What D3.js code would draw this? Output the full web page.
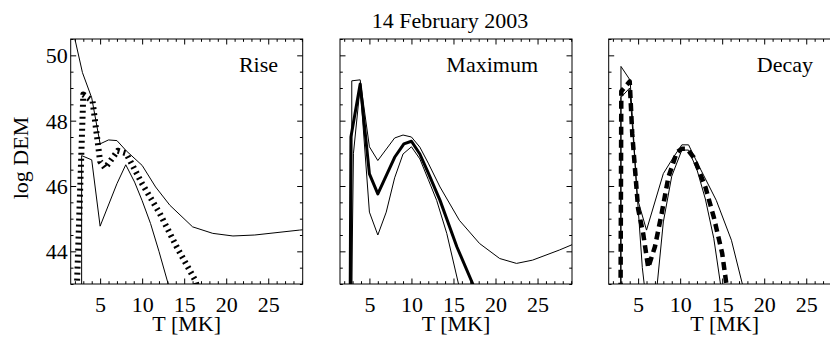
<!DOCTYPE html>
<html>
  <head>
    <meta charset="utf-8">
    <title>DEM 14 February 2003</title>
    <script src="https://d3js.org/d3.v7.min.js"></script>
    <style>
      body { margin: 0; background: #fff; }
      .tick line { stroke: #000; stroke-width: 1; }
    </style>
  </head>
  <body>
    <div id="chart"></div>
    <script>

      // tick labels
      var xTicks = [5, 10, 15, 20, 25];
      var yTicks = [44, 46, 48, 50];
      var panelNames = ["Rise", "Maximum", "Decay"];

      // curves: [T in MK, log DEM]
      var riseUpper = [[1.8, 51.3], [2.0, 50.5], [2.9, 49.47], [4.0, 48.7], [5.0, 47.29], [6.0, 47.41],
        [7.0, 47.39], [8.1, 47.08], [10.0, 46.63], [11.6, 45.97], [13.3, 45.41], [16.0, 44.75],
        [18.4, 44.55], [20.8, 44.47], [23.4, 44.5], [28.7, 44.65], [30.0, 44.68]];
      var riseLower = [[2.8, 42.0], [2.8, 46.93], [4.0, 46.8], [5.0, 44.77], [7.0, 46.07], [8.05, 46.65],
        [9.1, 46.12], [10.0, 45.55], [11.0, 44.85], [12.0, 44.0], [13.1, 43.0], [13.5, 42.6]];
      var riseFit = [[2.2, 42.0], [2.25, 43.0], [3.0, 48.8], [4.1, 48.6], [5.0, 46.75], [5.6, 46.55],
        [7.1, 47.08], [8.1, 47.0], [10.0, 46.07], [12.1, 45.16], [14.1, 44.14], [16.3, 43.12], [16.8, 42.7]];

      var maxUpper = [[2.9, 42.0], [2.9, 49.22], [3.9, 49.25], [5.0, 47.2], [6.0, 46.78], [8.0, 47.47],
        [9.0, 47.56], [10.0, 47.5], [11.0, 47.19], [12.0, 46.7], [13.4, 45.97], [15.7, 44.95],
        [18.1, 44.24], [20.5, 43.78], [22.5, 43.63], [24.4, 43.73], [27.6, 44.04], [30.0, 44.3]];
      var maxLower = [[2.85, 42.0], [3.1, 47.0], [3.9, 49.05], [5.0, 45.2], [6.0, 44.5], [7.0, 45.2],
        [8.0, 46.25], [9.0, 46.98], [10.0, 47.2], [11.0, 46.83], [12.0, 46.2], [13.0, 45.56],
        [14.2, 44.55], [15.6, 43.0], [15.9, 42.7]];
      var maxFit = [[2.7, 42.0], [2.8, 47.5], [3.9, 49.12], [5.0, 46.37], [6.0, 45.76], [8.0, 46.88],
        [9.1, 47.29], [10.0, 47.37], [11.0, 46.98], [12.0, 46.4], [13.4, 45.56], [15.4, 44.14],
        [17.3, 43.0], [17.6, 42.7]];

      var decUpper = [[2.96, 42.0], [2.96, 49.66], [4.05, 49.24], [4.9, 45.63], [6.0, 44.65], [8.0, 46.38],
        [9.2, 46.88], [10.2, 47.26], [11.0, 47.26], [12.1, 46.68], [14.3, 45.56], [16.1, 44.34],
        [17.4, 43.0], [17.7, 42.6]];
      var decLower = [[2.92, 42.0], [2.95, 48.71], [4.0, 49.0], [4.9, 45.7], [5.5, 43.5], [5.9, 42.6],
        [6.5, 42.0], [7.2, 42.8], [8.0, 44.9], [9.0, 46.3], [10.2, 47.1], [11.0, 47.1], [12.0, 46.5],
        [13.0, 45.6], [14.0, 44.4], [14.8, 43.0], [15.0, 42.7]];
      var decFit = [[2.9, 42.0], [3.0, 48.9], [4.0, 49.2], [4.3, 47.6], [5.0, 45.3], [5.6, 44.55],
        [6.2, 43.5], [7.0, 44.14], [7.8, 45.16], [8.6, 46.27], [9.6, 47.03], [10.2, 47.14],
        [10.8, 47.14], [11.6, 46.88], [13.0, 45.97], [14.0, 45.05], [15.0, 43.94], [15.5, 43.0], [15.7, 42.6]];

      var panels = [
        { name: panelNames[0], upper: riseUpper, lower: riseLower, fit: riseFit, fitWidth: 6, fitDash: "2,4", labelEnd: 278 },
        { name: panelNames[1], upper: maxUpper, lower: maxLower, fit: maxFit, fitWidth: 3, fitDash: null, labelEnd: 538 },
        { name: panelNames[2], upper: decUpper, lower: decLower, fit: decFit, fitWidth: 4.5, fitDash: "8,5", labelEnd: 813 }
      ];

      var width = 830, height = 337;
      var panelLeft = [70.7, 340, 608.7],
          panelTop = 39,
          pw = 232, ph = 245;
      var serif = '"Liberation Serif", "Times New Roman", serif';

      var svg = d3.select("#chart")
        .append("svg")
          .attr("width", width)
          .attr("height", height)
          .style("font-family", serif);

      var x = d3.scaleLinear().domain([1.5, 29.1]).range([0, pw]);
      var y = d3.scaleLinear().domain([43, 50.5]).range([ph, 0]);

      var line = d3.line()
        .x(function(d) { return x(d[0]); })
        .y(function(d) { return y(d[1]); });

      var xMinor = d3.range(2, 30, 1).filter(function(v) { return v % 5 != 0; });
      var yMinor = d3.range(43, 50.51, 0.5).filter(function(v) { return v % 2 != 0; });

      function label(sel) {
        return sel.style("font-family", serif).style("font-size", "22px").attr("fill", "#000");
      }

      // title and y label
      svg.append("text")
        .attr("x", 450).attr("y", 28)
        .attr("text-anchor", "middle")
        .call(label)
        .text("14 February 2003");

      svg.append("text")
        .attr("transform", "translate(28,158) rotate(-90)")
        .attr("text-anchor", "middle")
        .call(label)
        .text("log DEM");

      panels.forEach(function(p, i) {
        var g = svg.append("g")
          .attr("transform", "translate(" + panelLeft[i] + "," + panelTop + ")");

        g.append("clipPath").attr("id", "clip" + i)
          .append("rect").attr("width", pw).attr("height", ph);

        // ticks on all four sides, pointing in
        var xb = g.append("g").attr("transform", "translate(0," + ph + ")")
          .call(d3.axisBottom(x).tickValues(xTicks).tickSize(-5.5).tickFormat(d3.format("d")));
        xb.selectAll(".tick text").attr("y", 27.5).attr("dy", null).call(label);

        g.append("g").attr("transform", "translate(0," + ph + ")")
          .call(d3.axisBottom(x).tickValues(xMinor).tickSize(-2.8).tickFormat(""));
        g.append("g")
          .call(d3.axisTop(x).tickValues(xTicks).tickSize(-5.5).tickFormat(""));
        g.append("g")
          .call(d3.axisTop(x).tickValues(xMinor).tickSize(-2.8).tickFormat(""));

        var yl = g.append("g")
          .call(d3.axisLeft(y).tickValues(yTicks).tickSize(-5.5)
            .tickFormat(i == 0 ? d3.format("d") : ""));
        yl.selectAll(".tick text").attr("x", -3).attr("dy", "0.34em").call(label);

        g.append("g")
          .call(d3.axisLeft(y).tickValues(yMinor).tickSize(-2.8).tickFormat(""));
        g.append("g").attr("transform", "translate(" + pw + ",0)")
          .call(d3.axisRight(y).tickValues(yTicks).tickSize(-5.5).tickFormat(""));
        g.append("g").attr("transform", "translate(" + pw + ",0)")
          .call(d3.axisRight(y).tickValues(yMinor).tickSize(-2.8).tickFormat(""));

        // drop the axis defaults (sans-serif 10px) so the serif face is kept
        g.selectAll("g").attr("font-family", null).attr("font-size", null);
        g.selectAll(".domain").remove();
        g.append("rect")
          .attr("width", pw).attr("height", ph)
          .attr("fill", "none").attr("stroke", "#000").attr("stroke-width", 1);

        var plot = g.append("g").attr("clip-path", "url(#clip" + i + ")");

        plot.append("path").datum(p.upper)
          .attr("fill", "none").attr("stroke", "#000").attr("stroke-width", 1)
          .attr("d", line);
        plot.append("path").datum(p.lower)
          .attr("fill", "none").attr("stroke", "#000").attr("stroke-width", 1)
          .attr("d", line);
        plot.append("path").datum(p.fit)
          .attr("fill", "none").attr("stroke", "#000")
          .attr("stroke-width", p.fitWidth)
          .attr("stroke-dasharray", p.fitDash)
          .attr("stroke-linejoin", "round")
          .attr("d", line);

        svg.append("text")
          .attr("x", p.labelEnd).attr("y", 72)
          .attr("text-anchor", "end")
          .call(label)
          .text(p.name);

        svg.append("text")
          .attr("x", panelLeft[i] + pw / 2).attr("y", 331)
          .attr("text-anchor", "middle")
          .call(label)
          .text("T [MK]");
      });

    </script>
  </body>
</html>
